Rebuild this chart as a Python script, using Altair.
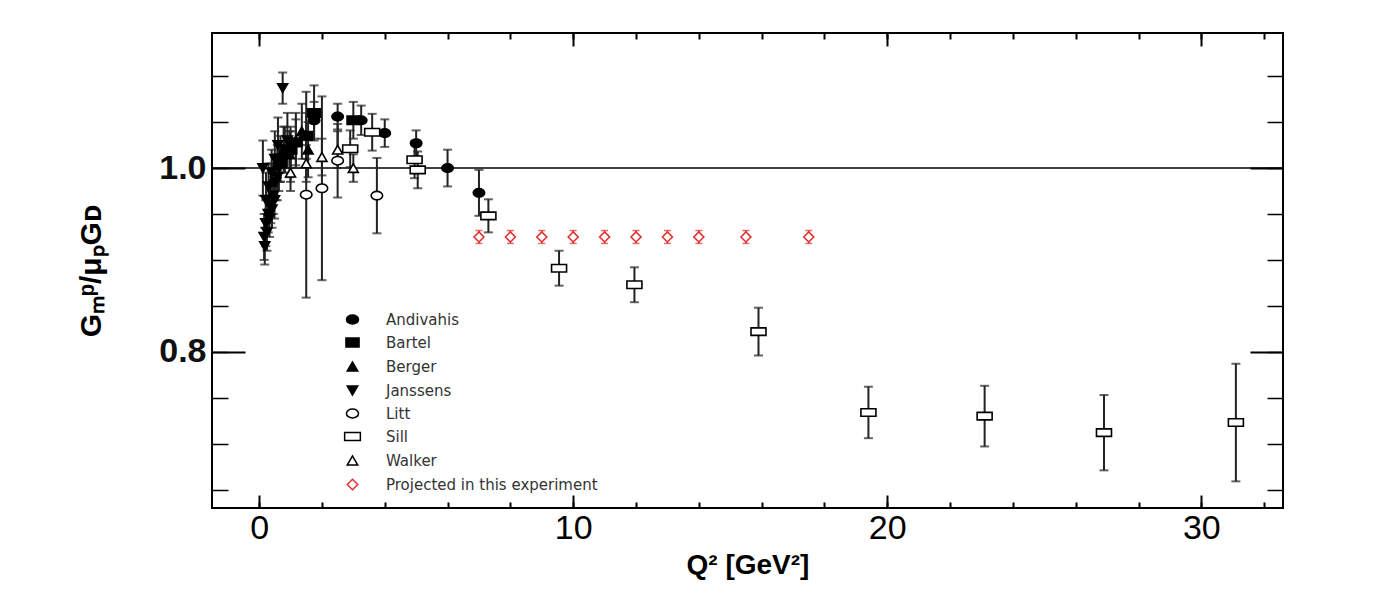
import altair as alt
import pandas as pd

# ---------------- data ----------------
series_names = ["Andivahis", "Bartel", "Berger", "Janssens", "Litt", "Sill", "Walker",
                "Projected in this experiment"]

andivahis_q2 = [1.75, 2.5, 3.25, 4.0, 5.0, 6.0, 7.0]
andivahis_r = [1.052, 1.056, 1.052, 1.038, 1.027, 1.000, 0.973]
andivahis_e = [0.020, 0.014, 0.016, 0.015, 0.014, 0.020, 0.025]

bartel_q2 = [0.67, 1.0, 1.17, 1.5, 1.75, 3.0]
bartel_r = [1.005, 1.020, 1.028, 1.035, 1.060, 1.052]
bartel_e = [0.020, 0.020, 0.025, 0.025, 0.030, 0.020]

berger_q2 = [0.39, 0.58, 0.78, 0.97, 1.17, 1.36, 1.56]
berger_r = [0.985, 1.005, 1.020, 1.015, 1.030, 1.040, 1.020]
berger_e = [0.020, 0.020, 0.025, 0.025, 0.030, 0.030, 0.030]

janssens_q2 = [0.12, 0.16, 0.18, 0.21, 0.25, 0.29, 0.33, 0.37, 0.41, 0.45, 0.49, 0.53,
               0.58, 0.63, 0.68, 0.75, 0.82, 0.90, 1.00, 0.22, 0.30, 0.40, 0.50, 0.60]
janssens_r = [1.000, 0.925, 0.915, 0.940, 0.930, 0.950, 0.945, 0.960, 0.955, 0.970, 0.965,
              0.985, 0.990, 1.000, 1.010, 1.087, 1.020, 1.030, 1.015, 0.965, 0.980, 0.995,
              1.010, 1.025]
janssens_e = [0.030, 0.025, 0.020, 0.025, 0.020, 0.020, 0.020, 0.020, 0.020, 0.020, 0.020,
              0.020, 0.025, 0.025, 0.025, 0.017, 0.025, 0.030, 0.030, 0.030, 0.025, 0.025,
              0.030, 0.030]

litt_q2 = [1.5, 2.0, 2.5, 3.75]
litt_r = [0.971, 0.978, 1.008, 0.970]
litt_e = [0.112, 0.100, 0.040, 0.041]

sill_q2 = [2.9, 3.6, 4.95, 5.05, 7.3, 9.55, 11.95, 15.9, 19.4, 23.1, 26.9, 31.1]
sill_r = [1.021, 1.039, 1.009, 0.998, 0.948, 0.891, 0.873, 0.822, 0.734, 0.730, 0.712, 0.723]
sill_e = [0.020, 0.020, 0.020, 0.020, 0.018, 0.019, 0.019, 0.026, 0.028, 0.033, 0.041, 0.064]

walker_q2 = [1.0, 1.5, 2.0, 2.5, 3.0]
walker_r = [0.995, 1.005, 1.012, 1.020, 1.000]
walker_e = [0.020, 0.020, 0.020, 0.020, 0.015]

proj_q2 = [7, 8, 9, 10, 11, 12, 13, 14, 15.5, 17.5]
proj_r = [0.925, 0.925, 0.925, 0.925, 0.925, 0.925, 0.925, 0.925, 0.925, 0.925]
proj_e = [0.007, 0.007, 0.007, 0.007, 0.007, 0.007, 0.007, 0.007, 0.007, 0.007]

x_major = [0, 10, 20, 30]
x_minor = [0, 2, 4, 6, 8, 10, 12, 14, 16, 18, 20, 22, 24, 26, 28, 30, 32]
y_major = [0.8, 1.0]
y_minor = [0.65, 0.70, 0.75, 0.80, 0.85, 0.90, 0.95, 1.00, 1.05, 1.10]
ref_value = [1.0]

# ---------------- build tables ----------------
def rows(name, q, r, e):
    return [dict(series=name, q2=a, r=b, lo=b - c, hi=b + c) for a, b, c in zip(q, r, e)]

meas = pd.DataFrame(
    rows("Andivahis", andivahis_q2, andivahis_r, andivahis_e)
    + rows("Bartel", bartel_q2, bartel_r, bartel_e)
    + rows("Berger", berger_q2, berger_r, berger_e)
    + rows("Janssens", janssens_q2, janssens_r, janssens_e)
    + rows("Litt", litt_q2, litt_r, litt_e)
    + rows("Sill", sill_q2, sill_r, sill_e)
    + rows("Walker", walker_q2, walker_r, walker_e)
)
proj = pd.DataFrame(rows("Projected in this experiment", proj_q2, proj_r, proj_e))
allpts = pd.concat([meas, proj], ignore_index=True)
ref = pd.DataFrame({"v": ref_value})

# ---------------- styling ----------------
W, H = 1071, 475
XDOM = [-1.5, 32.6]
YDOM = [0.63, 1.147]
RED = "#e0302f"
xs = alt.Scale(domain=XDOM, nice=False, zero=False)
ys = alt.Scale(domain=YDOM, nice=False, zero=False)

ELL = "M-1.15,0A1.15,0.85 0 1,1 1.15,0A1.15,0.85 0 1,1 -1.15,0Z"
RECT_F = "M-1.25,-0.85H1.25V0.85H-1.25Z"
RECT_O = "M-1.5,-0.75H1.5V0.75H-1.5Z"
shapes = [ELL, RECT_F, "triangle-up", "triangle-down", ELL, RECT_O, "triangle-up", "diamond"]
fills = ["black", "black", "black", "black", "white", "white", "white", "white"]
strokes = ["black"] * 7 + [RED]


def tick_axis(orient, values, size, width):
    return alt.Axis(orient=orient, offset=-(H if orient in ("top", "bottom") else W),
                    values=values, tickSize=size, tickWidth=width, tickColor="black",
                    labels=False, domain=False, grid=False, title=None)


x_lab = alt.Axis(orient="bottom", values=x_major, format="d", ticks=False, domain=False,
                 grid=False, labelFontSize=34, labelFont="Liberation Sans Narrow, Liberation Sans",
                 labelColor="black", labelPadding=3, title="Q² [GeV²]", titleFontSize=28,
                 titleFont="Liberation Sans", titleFontWeight="bold", titleColor="black",
                 titlePadding=6)
y_lab = alt.Axis(orient="left", values=y_major, format=".1f", ticks=False, domain=False,
                 grid=False, labelFontSize=34, labelFont="Liberation Sans",
                 labelFontWeight="bold", labelColor="#111", labelPadding=6,
                 title="Gₘᵖ/μₚGᴅ", titleFontSize=30, titleFont="Liberation Sans",
                 titleFontWeight="bold", titleColor="black", titlePadding=52)

legend_kw = dict(orient="none", legendX=133, legendY=279, title=None, labelFontSize=15,
                 labelFont="DejaVu Sans", labelColor="#333", labelLimit=0, symbolSize=110,
                 symbolStrokeWidth=1.5, rowPadding=7, labelOffset=26)

refline = alt.Chart(ref).mark_rule(color="black", strokeWidth=1.5).encode(
    y=alt.Y("v:Q", scale=ys, axis=None)
)

err = alt.Chart(meas).mark_rule(color="#222", strokeWidth=2).encode(
    x=alt.X("q2:Q", scale=xs, axis=x_lab),
    y=alt.Y("lo:Q", scale=ys, axis=y_lab),
    y2="hi:Q",
)
cap_lo = alt.Chart(meas).mark_tick(orient="horizontal", size=9, thickness=2, color="#222").encode(
    x=alt.X("q2:Q", scale=xs, axis=tick_axis("top", x_major, 13, 2)),
    y=alt.Y("lo:Q", scale=ys, axis=tick_axis("right", y_major, 33, 2)),
)
cap_hi = alt.Chart(meas).mark_tick(orient="horizontal", size=9, thickness=2, color="#222").encode(
    x=alt.X("q2:Q", scale=xs, axis=tick_axis("top", x_minor, 6, 2)),
    y=alt.Y("hi:Q", scale=ys, axis=tick_axis("right", y_minor, 16, 1.5)),
)
perr = alt.Chart(proj).mark_rule(color=RED, strokeWidth=1.5).encode(
    x=alt.X("q2:Q", scale=xs, axis=tick_axis("bottom", x_minor, 6, 2)),
    y=alt.Y("lo:Q", scale=ys, axis=tick_axis("left", y_minor, 16, 1.5)),
    y2="hi:Q",
)
pcap = alt.Chart(proj).transform_fold(["lo", "hi"], as_=["k", "yy"]).mark_tick(
    orient="horizontal", size=7, thickness=1.5, color=RED
).encode(
    x=alt.X("q2:Q", scale=xs, axis=None),
    y=alt.Y("yy:Q", scale=ys, axis=None),
)
pts = alt.Chart(allpts).mark_point(size=100, strokeWidth=1.6, opacity=1, filled=False).encode(
    x=alt.X("q2:Q", scale=xs, axis=tick_axis("bottom", x_major, 13, 2)),
    y=alt.Y("r:Q", scale=ys, axis=tick_axis("left", y_major, 33, 2)),
    shape=alt.Shape("series:N", scale=alt.Scale(domain=series_names, range=shapes),
                    legend=alt.Legend(**legend_kw)),
    fill=alt.Fill("series:N", scale=alt.Scale(domain=series_names, range=fills),
                  legend=alt.Legend(**legend_kw)),
    stroke=alt.Stroke("series:N", scale=alt.Scale(domain=series_names, range=strokes),
                      legend=alt.Legend(**legend_kw)),
)

chart = (
    alt.layer(refline, err, cap_lo, cap_hi, perr, pcap, pts)
    .resolve_axis(x="independent", y="independent")
    .resolve_scale(x="shared", y="shared")
    .properties(width=W, height=H, autosize=alt.AutoSizeParams(type="none"),
                padding={"left": 212, "top": 33, "right": 101, "bottom": 85},
                background="white")
    .configure_view(stroke="black", strokeWidth=2)
)

chart.save("out.html", embed_options={"renderer": "svg", "actions": False})
